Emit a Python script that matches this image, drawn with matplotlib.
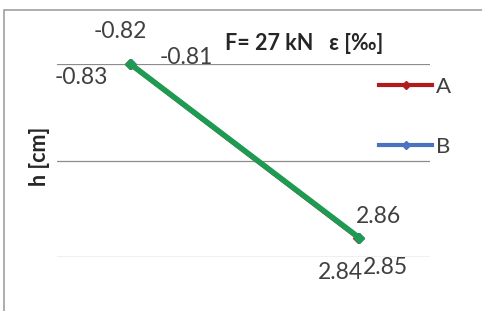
import matplotlib
matplotlib.use("Agg")
import matplotlib.pyplot as plt
from matplotlib.patches import Rectangle

# strain values [‰] at top and bottom gauge, height [cm]
h = [20, 2]
eps_a = [-0.83, 2.84]
eps_b = [-0.81, 2.85]
eps_c = [-0.82, 2.86]
series_names = ["A", "B", None]
colors = ["#b01c1c", "#4a72c0", "#1f9a52"]
widths = [3, 3, 4]

# label offsets in pixels for each series (top point, bottom point)
label_offsets = [[(-48, -14), (-17, -35)],
                 [(55, 6), (27, -30)],
                 [(-10, 32), (19, 21)]]

plt.rcParams["font.family"] = ["Lato", "DejaVu Sans"]

fig = plt.figure(figsize=(4.82, 3.11), dpi=100)
fig.patches.append(Rectangle((4 / 482, -0.1), 1.2, 1 - 10 / 311 + 0.1,
                             transform=fig.transFigure, fill=False,
                             edgecolor="#a0a0a0", linewidth=1.2))

ax = fig.add_axes([57 / 482, 1 - 257 / 311, (430 - 57) / 482, (257 - 64) / 311])
ax.set_xlim(-2, 4)
ax.set_ylim(0, 20)
for s in ax.spines.values():
    s.set_visible(False)
ax.set_xticks([])
ax.set_yticks([0, 10, 20])
ax.set_yticklabels([])
ax.tick_params(length=0)
ax.grid(axis="y", color="#8c8c8c", linewidth=0.9)

handles = []
for eps, name, col, lw, offs in zip([eps_a, eps_b, eps_c], series_names, colors,
                                    widths, label_offsets):
    ln, = ax.plot(eps, h, color=col, linewidth=lw, marker="D", markersize=5,
                  clip_on=False, label=name)
    if name:
        handles.append(ln)
    for x, y, off in zip(eps, h, offs):
        ax.annotate(f"{x:.2f}", (x, y), xytext=off, textcoords="offset pixels",
                    ha="center", va="center", fontsize=16.5, color="#404040")

leg = fig.legend(handles, [hd.get_label() for hd in handles],
                 loc="upper left", bbox_to_anchor=(368 / 482, 1 - 66 / 311),
                 frameon=False, fontsize=16, handlelength=2.4, handletextpad=0.15,
                 labelspacing=1.8, borderpad=0, markerscale=0.8)
for t in leg.get_texts():
    t.set_color("#404040")

fig.text(304 / 482, 1 - 43 / 311, "F= 27 kN   ε [‰]", ha="center", va="center",
         fontsize=15.5, fontweight="bold", color="#262626")
fig.text(40 / 482, 1 - 156 / 311, "h [cm]", ha="center", va="center",
         rotation=90, fontsize=15.5, fontweight="bold", color="#262626")

fig.savefig("out.png", dpi=100)
